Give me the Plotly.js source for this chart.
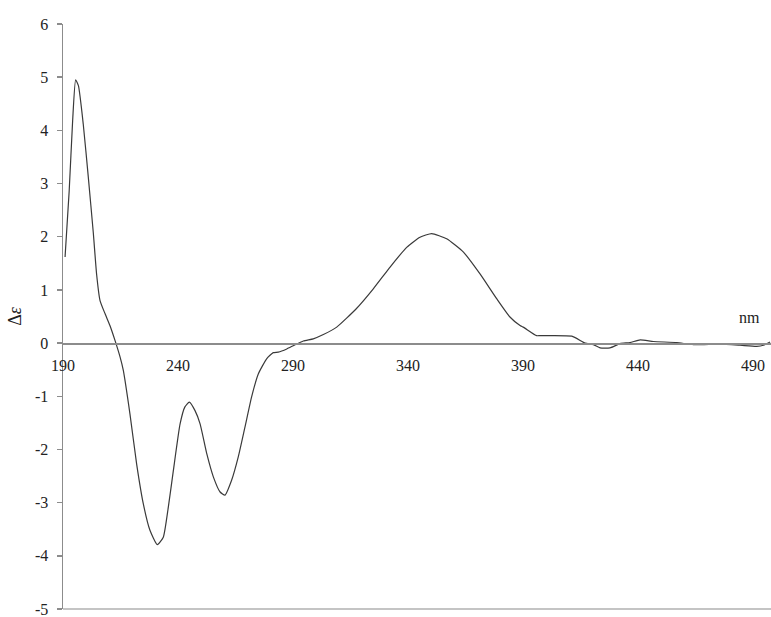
<!DOCTYPE html>
<html>
<head>
<meta charset="utf-8">
<script src="https://cdn.plot.ly/plotly-3.0.1.min.js"></script>
<style>html,body{margin:0;padding:0;background:#fff;}#chart{width:771px;height:617px;}</style>
</head>
<body>
<div id="chart"></div>
<script>
// Wavelength (nm) and CD values (Δε)
const wavelength = [190.9, 192.7, 194.2, 195.5, 196.7, 198.8, 201.0, 203.2, 204.6, 206.1, 208.3, 210.4, 212.6, 214.8,
  216.2, 219.1, 222.0, 224.9, 227.8, 231.0, 233.6, 235.8, 238.0, 240.9, 243.0, 244.9, 247.4, 249.6, 252.5,
  255.4, 258.3, 260.4, 263.3, 266.2, 269.1, 272.0, 274.9, 278.6, 281.4, 283.6, 287.3, 290.5, 294.5, 298.8,
  303.2, 309.0, 317.6, 324.9, 332.2, 339.4, 345.2, 350.3, 356.8, 364.1, 371.3, 378.6, 384.3, 388.7, 390.1, 395.9,
  397.4, 411.2, 417.0, 420.6, 423.5, 427.8, 432.2, 436.5, 440.9, 446.7, 456.8, 464.1, 475.7, 484.3, 491.6, 494.5, 497.4];
const deltaEps = [1.62, 2.87, 4.19, 4.95, 4.84, 4.12, 3.12, 2.06, 1.30, 0.80, 0.55, 0.33, 0.05, -0.26,
  -0.51, -1.33, -2.27, -3.02, -3.52, -3.79, -3.65, -3.08, -2.39, -1.52, -1.20, -1.11, -1.27, -1.52, -2.08,
  -2.52, -2.80, -2.86, -2.58, -2.14, -1.58, -1.01, -0.58, -0.29, -0.18, -0.17, -0.11, -0.04, 0.04, 0.08,
  0.16, 0.30, 0.65, 1.02, 1.43, 1.80, 1.99, 2.06, 1.96, 1.71, 1.30, 0.83, 0.49, 0.33, 0.30, 0.14,
  0.14, 0.13, 0.00, -0.03, -0.09, -0.09, -0.01, 0.01, 0.06, 0.03, 0.01, -0.03, -0.02, -0.04, -0.06, -0.04, 0.02];
const xTicks = [190, 240, 290, 340, 390, 440, 490];
const xTickText = ['190', '240', '290', '340', '390', '440', '490'];
const yTicks = [-5, -4, -3, -2, -1, 0, 1, 2, 3, 4, 5, 6];
const yTickText = ['-5', '-4', '-3', '-2', '-1', '0', '1', '2', '3', '4', '5', '6'];

const yMin = -5, yMax = 6;
const axisGrey = '#8c8c8c';
const serif = '"Liberation Serif", "Times New Roman", Times, serif';
const tickFont = {family: serif, size: 16, color: '#222'};

const trace = {
  x: wavelength, y: deltaEps, type: 'scatter', mode: 'lines',
  line: {color: '#3a3a3a', width: 1.2, shape: 'spline', smoothing: 0.5},
  hoverinfo: 'skip', showlegend: false
};

const layout = {
  width: 771, height: 617,
  margin: {l: 63, r: 0, t: 24, b: 8},
  paper_bgcolor: '#fff', plot_bgcolor: '#fff',
  font: {family: serif},
  showlegend: false,
  xaxis: {
    range: [190, 497.8], anchor: 'free', position: (0 - yMin) / (yMax - yMin),
    showline: true, linecolor: axisGrey, linewidth: 1.5,
    showgrid: false, zeroline: false, ticks: '',
    tickvals: xTicks, ticktext: xTickText, tickfont: tickFont,
    ticklabelstandoff: 7, ticklabeloverflow: 'allow'
  },
  yaxis: {
    range: [yMin, yMax], showline: true, linecolor: axisGrey, linewidth: 1.5,
    showgrid: false, zeroline: false, ticks: 'outside', ticklen: 5, tickwidth: 1.5, tickcolor: axisGrey,
    tickvals: yTicks, ticktext: yTickText, tickfont: tickFont,
    ticklabelstandoff: 5, ticklabeloverflow: 'allow',
    title: {text: 'Δ<i>ε</i>', font: {family: serif, size: 18, color: '#222'}, standoff: 8}
  },
  shapes: [{type: 'line', xref: 'paper', yref: 'paper', x0: 0, x1: 1, y0: 0, y1: 0,
    line: {color: '#b0b0b0', width: 1.5}}],
  annotations: [{text: 'nm', xref: 'paper', yref: 'paper', x: 0.970, y: 0.499,
    showarrow: false, font: tickFont, xanchor: 'center', yanchor: 'middle'}]
};

Plotly.newPlot('chart', [trace], layout, {displayModeBar: false, staticPlot: true});
</script>
</body>
</html>
